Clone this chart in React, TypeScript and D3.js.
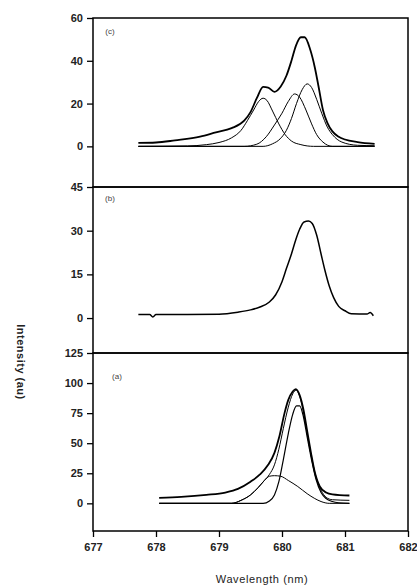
import React, { useEffect, useRef } from 'react';
import * as d3 from 'd3';

type Pt = [number, number];

// wavelength ticks shared by the three stacked panels
const xTicks = [677, 678, 679, 680, 681, 682];
const cTicks = [0, 20, 40, 60];
const bTicks = [0, 15, 30, 45];
const aTicks = [0, 25, 50, 75, 100, 125];

// panel (c): measured spectrum + three fitted components
const cTotal: Pt[] = [[677.72, 1.6], [678.0, 1.8], [678.3, 2.8], [678.7, 4.5], [678.95, 6.5], [679.2, 8.5], [679.4, 12], [679.5, 16], [679.6, 22.5], [679.7, 27.8], [679.78, 27.5], [679.88, 25.5], [679.98, 28], [680.07, 33], [680.15, 40], [680.22, 47], [680.3, 51], [680.36, 51], [680.45, 45], [680.52, 37], [680.58, 28], [680.65, 17], [680.72, 11], [680.8, 7], [680.9, 4.5], [681.0, 3.2], [681.2, 2], [681.47, 1.2]];
const cComp1: Pt[] = [[677.72, 0], [678.5, 0.2], [678.8, 0.8], [679.0, 1.8], [679.2, 4], [679.35, 7.5], [679.45, 12], [679.55, 17], [679.63, 21], [679.7, 22.5], [679.76, 21.5], [679.85, 16.5], [679.95, 10.5], [680.05, 5.5], [680.15, 2.5], [680.3, 0.8], [680.5, 0], [681.47, 0]];
const cComp2: Pt[] = [[677.72, 0], [679.4, 0], [679.6, 1], [679.75, 4.5], [679.88, 10], [680.0, 15.5], [680.1, 21], [680.2, 24.5], [680.28, 23], [680.38, 17], [680.47, 10.5], [680.55, 5.5], [680.65, 2], [680.8, 0], [681.47, 0]];
const cComp3: Pt[] = [[677.72, 0], [679.7, 0], [679.85, 1.2], [679.97, 3.5], [680.07, 7.5], [680.15, 13], [680.23, 20], [680.32, 26.5], [680.4, 29.2], [680.47, 27.5], [680.55, 22], [680.63, 15.5], [680.72, 9], [680.8, 5.5], [680.95, 2], [681.2, 0.5], [681.47, 0.3]];

// panel (b): single measured spectrum
const bTotal: Pt[] = [[677.72, 1.2], [677.9, 1.2], [677.95, 0.4], [678.0, 1.2], [678.5, 1.2], [679.0, 1.3], [679.3, 2], [679.5, 2.8], [679.65, 3.8], [679.8, 5.5], [679.9, 8], [680.0, 12.5], [680.07, 17], [680.15, 22], [680.22, 27], [680.28, 30.5], [680.35, 33], [680.42, 33.3], [680.48, 32.5], [680.55, 28.5], [680.62, 22], [680.68, 16.5], [680.75, 11], [680.82, 7], [680.9, 4], [681.0, 2.5], [681.1, 1.5], [681.35, 1.4], [681.4, 1.9], [681.45, 0.8]];

// panel (a): measured, fitted sum and two components
const aTotal: Pt[] = [[678.05, 4.5], [678.4, 5.3], [678.8, 7], [679.1, 9], [679.3, 12], [679.5, 18], [679.65, 24], [679.78, 32], [679.88, 42], [679.96, 56], [680.04, 75], [680.1, 86], [680.17, 93], [680.22, 95], [680.28, 90], [680.34, 78], [680.4, 60], [680.46, 42], [680.52, 26], [680.6, 14], [680.7, 9], [680.8, 7.5], [681.07, 6.5]];
const aFit: Pt[] = [[678.05, 0], [679.2, 0], [679.35, 2.5], [679.5, 7], [679.62, 13], [679.72, 19], [679.8, 24], [679.88, 32], [679.95, 45], [680.02, 62], [680.1, 80], [680.17, 91], [680.22, 94], [680.28, 89], [680.34, 76], [680.4, 58], [680.47, 38], [680.54, 22], [680.62, 11], [680.7, 5], [680.8, 3], [681.07, 2.5]];
const aBroad: Pt[] = [[678.05, 0], [679.2, 0], [679.35, 2.5], [679.5, 7], [679.62, 13], [679.72, 19], [679.8, 22.5], [679.88, 23], [679.98, 22.5], [680.1, 19], [680.25, 14], [680.4, 8], [680.52, 4], [680.62, 1.5], [680.75, 0], [681.07, 0]];
const aSharp: Pt[] = [[678.05, 0], [679.7, 0], [679.8, 2], [679.88, 7], [679.95, 18], [680.02, 36], [680.1, 58], [680.17, 74], [680.23, 81], [680.28, 81], [680.34, 72], [680.4, 55], [680.47, 36], [680.54, 20], [680.62, 9], [680.7, 4], [680.8, 1.5], [680.9, 0.5], [681.07, 0]];

const FONT = '"Liberation Sans", Arial, sans-serif';

const App = () => {
  const svgRef = useRef<SVGSVGElement>(null);
  const left = 93;
  const right = 408;

  useEffect(() => {
    const svg = d3.select(svgRef.current);
    svg.selectAll('*').remove();

    const x = d3.scaleLinear().domain([677, 682]).range([left, right]);

    const panels = [
      { label: '(c)', domain: [-19, 60], top: 18, bottom: 187, ticks: cTicks, lx: 110, ly: 32,
        series: [{ d: cTotal, w: 1.8 }, { d: cComp1, w: 1 }, { d: cComp2, w: 1 }, { d: cComp3, w: 1 }] },
      { label: '(b)', domain: [-12, 45], top: 187, bottom: 353, ticks: bTicks, lx: 110, ly: 199,
        series: [{ d: bTotal, w: 1.5 }] },
      { label: '(a)', domain: [-23, 125], top: 353, bottom: 531, ticks: aTicks, lx: 117, ly: 377,
        series: [{ d: aTotal, w: 1.8 }, { d: aFit, w: 1 }, { d: aBroad, w: 1 }, { d: aSharp, w: 1.2 }] },
    ];

    panels.forEach((p) => {
      const y = d3.scaleLinear().domain(p.domain).range([p.bottom, p.top]);
      const g = svg.append('g');

      // left axis with outward ticks
      const yAxis = d3.axisLeft(y).tickValues(p.ticks).tickSize(6).tickPadding(4);
      const ya = g.append('g').attr('transform', `translate(${left},0)`).call(yAxis);
      ya.select('.domain').remove();
      ya.selectAll('line').attr('stroke', '#000').attr('stroke-width', 1.3);
      ya.selectAll('text')
        .attr('font-family', FONT)
        .attr('font-size', 11)
        .attr('font-weight', 'bold')
        .attr('fill', '#222');

      const line = d3
        .line<Pt>()
        .x((d) => x(d[0]))
        .y((d) => y(d[1]))
        .curve(d3.curveMonotoneX);

      p.series.forEach((s) => {
        g.append('path')
          .attr('fill', 'none')
          .attr('stroke', '#000')
          .attr('stroke-width', s.w)
          .attr('stroke-linejoin', 'round')
          .attr('d', line(s.d));
      });

      g.append('rect')
        .attr('x', left)
        .attr('y', p.top)
        .attr('width', right - left)
        .attr('height', p.bottom - p.top)
        .attr('fill', 'none')
        .attr('stroke', '#000')
        .attr('stroke-width', 1.5);

      g.append('text')
        .attr('x', p.lx)
        .attr('y', p.ly)
        .attr('text-anchor', 'middle')
        .attr('dominant-baseline', 'middle')
        .attr('font-family', FONT)
        .attr('font-size', 8)
        .attr('fill', '#444')
        .text(p.label);
    });

    // bottom wavelength axis
    const xAxis = d3.axisBottom(x).tickValues(xTicks).tickSize(6).tickPadding(6).tickFormat(d3.format('d'));
    const xa = svg.append('g').attr('transform', 'translate(0,531)').call(xAxis);
    xa.select('.domain').remove();
    xa.selectAll('line').attr('stroke', '#000').attr('stroke-width', 1.3);
    xa.selectAll('text')
      .attr('font-family', FONT)
      .attr('font-size', 11)
      .attr('font-weight', 'bold')
      .attr('fill', '#222');

    svg.append('text')
      .attr('x', 262)
      .attr('y', 583)
      .attr('text-anchor', 'middle')
      .attr('font-family', FONT)
      .attr('font-size', 11)
      .attr('letter-spacing', 0.6)
      .attr('fill', '#222')
      .text('Wavelength (nm)');

    svg.append('text')
      .attr('transform', 'translate(17,362) rotate(90)')
      .attr('text-anchor', 'middle')
      .attr('font-family', FONT)
      .attr('font-size', 11)
      .attr('font-weight', 'bold')
      .attr('letter-spacing', 0.5)
      .attr('fill', '#222')
      .text('Intensity (au)');
  }, []);

  return (
    <svg
      ref={svgRef}
      width={417}
      height={586}
      style={{ position: 'absolute', left: 0, top: 0, background: '#fff' }}
    />
  );
};

export default App;
